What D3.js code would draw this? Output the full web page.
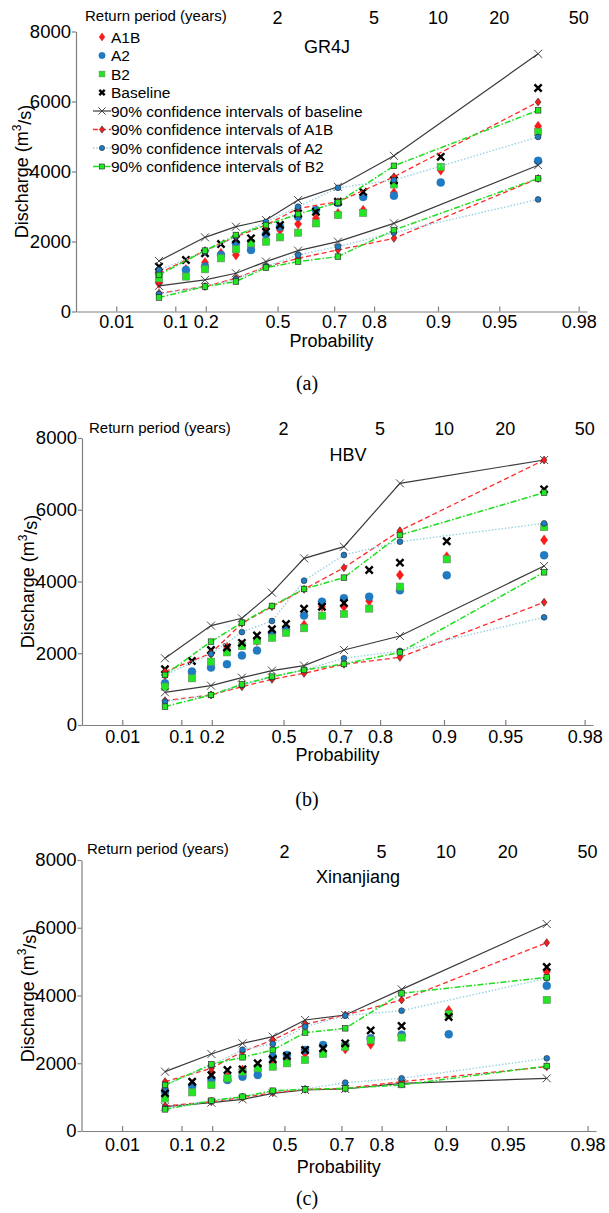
<!DOCTYPE html>
<html>
<head>
<meta charset="utf-8">
<script src="https://cdn.jsdelivr.net/npm/d3@7"></script>
<style>
  body { margin: 0; background: #fff; }
  text { font-family: "Liberation Sans", Arial, sans-serif; fill: #000; }
</style>
</head>
<body>
<svg id="chart" width="609" height="1213"></svg>
<script>
// plotting positions (non-exceedance probability) of the 15 ranked floods
const probability = [0.0615, 0.131, 0.197, 0.26, 0.323, 0.388, 0.452, 0.51, 0.58, 0.643, 0.711, 0.776, 0.838, 0.903, 0.968];
// confidence interval bounds are given at every other plotting position
const ciProbability = [0.0615, 0.197, 0.323, 0.452, 0.58, 0.711, 0.838, 0.968];

const xTickValues = [0.01, 0.1, 0.2, 0.5, 0.7, 0.8, 0.9, 0.95, 0.98];
const yTickValues = [0, 2000, 4000, 6000, 8000];
const returnPeriods = [2, 5, 10, 20, 50];

// GR4J
const gr4jBaseline = [1283, 1473, 1663, 1929, 2062, 2090, 2280, 2470, 2800, 2850, 3135, 3417, 3750, 4418, 6385];
const gr4jA1B = [800, 1200, 1397, 1663, 1615, 1850, 2350, 2328, 2500, 2660, 2803, 2895, 3392, 4038, 5292];
const gr4jA2 = [1100, 1188, 1283, 1615, 1948, 1758, 2205, 2420, 2710, 2900, 3100, 3274, 3306, 3687, 4304];
const gr4jB2 = [950, 998, 1207, 1520, 1777, 1948, 1995, 2119, 2252, 2518, 2755, 2818, 3630, 4133, 5130];
const gr4jCiBaseline = [[732, 903, 1093, 1426, 1739, 1996, 2518, 4180], [1445, 2119, 2423, 2613, 3183, 3563, 4447, 7363]];
const gr4jCiA1B = [[523, 713, 950, 1283, 1520, 1758, 2090, 3800], [1093, 1739, 2138, 2470, 2945, 3135, 3848, 5985]];
const gr4jCiA2 = [[504, 713, 922, 1283, 1615, 1853, 2252, 3202], [1188, 1700, 2150, 2560, 2993, 3534, 3753, 4988]];
const gr4jCiB2 = [[400, 713, 855, 1254, 1425, 1568, 2328, 3800], [1045, 1739, 2186, 2470, 2784, 3116, 4162, 5748]];

// HBV
const hbvBaseline = [1553, 1785, 2091, 2160, 2290, 2495, 2667, 2816, 3240, 3295, 3400, 4321, 4525, 5120, 6569];
const hbvA1B = [1395, 1441, 2000, 2180, 2231, 2350, 2602, 2620, 2788, 3300, 3299, 3457, 4182, 4693, 5160];
const hbvA2 = [1162, 1488, 1600, 1695, 1940, 2080, 2550, 2680, 3050, 3438, 3535, 3578, 3755, 4172, 4730];
const hbvB2 = [1069, 1302, 1766, 2025, 2200, 2350, 2430, 2570, 2698, 3048, 3095, 3245, 3856, 4618, 5515];
const hbvCiBaseline = [[912, 1097, 1320, 1515, 1655, 2091, 2481, 4432], [1859, 2770, 2974, 3689, 4646, 4971, 6736, 7387]];
const hbvCiA1B = [[679, 837, 1069, 1274, 1441, 1692, 1887, 3420], [1488, 1998, 2835, 3299, 3782, 4386, 5417, 7387]];
const hbvCiA2 = [[651, 837, 1116, 1330, 1534, 1859, 2064, 3002], [1395, 1980, 2590, 2900, 4024, 4739, 5111, 5620]];
const hbvCiB2 = [[512, 837, 1134, 1348, 1534, 1701, 2026, 4256], [1395, 2324, 2853, 3318, 3791, 4107, 5296, 6476]];

// Xinanjiang
const xajBaseline = [1112, 1456, 1650, 1801, 1820, 1998, 2116, 2214, 2391, 2440, 2588, 2970, 3100, 3365, 4840];
const xajA1B = [1250, 1380, 1722, 1600, 1800, 1899, 2047, 2150, 2293, 2350, 2420, 2558, 2800, 3560, 4703];
const xajA2 = [1160, 1328, 1525, 1505, 1604, 1653, 2194, 2243, 2391, 2538, 2538, 2735, 2845, 2853, 4285];
const xajB2 = [960, 1141, 1358, 1555, 1751, 1850, 1899, 1998, 2096, 2273, 2490, 2680, 2760, 3454, 3870];
const xajCiBaseline = [[718, 836, 935, 1112, 1210, 1240, 1407, 1555], [1751, 2273, 2588, 2785, 3277, 3424, 4182, 6110]];
const xajCiA1B = [[738, 866, 994, 1131, 1230, 1259, 1456, 1899], [1456, 1850, 2342, 2686, 3149, 3424, 3867, 5559]];
const xajCiA2 = [[669, 895, 1013, 1161, 1240, 1427, 1555, 2145], [1358, 1940, 2400, 2568, 3080, 3405, 3552, 4507]];
const xajCiB2 = [[639, 895, 1013, 1190, 1230, 1259, 1358, 1919], [1358, 1968, 2175, 2391, 2903, 3031, 4064, 4536]];

const panels = [
  { title: "GR4J", caption: "(a)", legend: true,
    points: [gr4jA1B, gr4jA2, gr4jB2, gr4jBaseline],
    ci: [gr4jCiBaseline, gr4jCiA1B, gr4jCiA2, gr4jCiB2] },
  { title: "HBV", caption: "(b)", legend: false,
    points: [hbvA1B, hbvA2, hbvB2, hbvBaseline],
    ci: [hbvCiBaseline, hbvCiA1B, hbvCiA2, hbvCiB2] },
  { title: "Xinanjiang", caption: "(c)", legend: false,
    points: [xajA1B, xajA2, xajB2, xajBaseline],
    ci: [xajCiBaseline, xajCiA1B, xajCiA2, xajCiB2] }
];

// page layout of each panel
const layout = [
  { left: 76, right: 587, top: 31.5, bottom: 311.5, titleX: 327, titleY: 47, rpY: 15, rpNumY: 18, rpLabelX: 85, tickDy: 10, xLabelDy: 29, captionY: 383 },
  { left: 82, right: 593, top: 438, bottom: 725, titleX: 348, titleY: 455, rpY: 427, rpNumY: 429, rpLabelX: 89, tickDy: 11.7, xLabelDy: 30, captionY: 799 },
  { left: 81.5, right: 596, top: 860, bottom: 1131, titleX: 358, titleY: 877, rpY: 848, rpNumY: 852, rpLabelX: 87, tickDy: 14, xLabelDy: 36, captionY: 1198 }
];

const pointStyles = [
  { name: "A1B", shape: "diamond", size: 4, fill: "#ff1a1a", stroke: "#e01010", sw: 0.4 },
  { name: "A2", shape: "circle", size: 4, fill: "#1f7cc4", stroke: "#1a6aa8", sw: 0.4 },
  { name: "B2", shape: "square", size: 3.6, fill: "#22e622", stroke: "#6a8a6a", sw: 0.6 },
  { name: "Baseline", shape: "x", size: 3.6, fill: "none", stroke: "#000", sw: 2.4 }
];
const ciStyles = [
  { name: "90% confidence intervals of baseline", color: "#3a3a3a", dash: null, width: 1.2,
    shape: "x", size: 4, fill: "none", stroke: "#333", sw: 0.9 },
  { name: "90% confidence intervals of A1B", color: "#ff2a2a", dash: "5,3", width: 1.3,
    shape: "diamond", size: 3.2, fill: "#ff1a1a", stroke: "#222", sw: 0.6 },
  { name: "90% confidence intervals of A2", color: "#9ad2e4", dash: "1.5,1.8", width: 1.4,
    shape: "circle", size: 2.9, fill: "#1f7cc4", stroke: "#222", sw: 0.6 },
  { name: "90% confidence intervals of B2", color: "#1fdd1f", dash: "6,2,1.5,2", width: 1.5,
    shape: "square", size: 2.8, fill: "#22e622", stroke: "#222", sw: 0.6 }
];

const gumbel = p => -Math.log(-Math.log(p));
const svg = d3.select("#chart");

function drawMarker(g, st, cx, cy, scale) {
  const s = st.size * (scale || 1);
  let m;
  if (st.shape === "circle") {
    m = g.append("circle").attr("cx", cx).attr("cy", cy).attr("r", s);
  } else if (st.shape === "square") {
    m = g.append("rect").attr("x", cx - s).attr("y", cy - s).attr("width", 2 * s).attr("height", 2 * s);
  } else if (st.shape === "diamond") {
    m = g.append("path").attr("d", `M${cx},${cy - s * 1.25}L${cx + s * 0.9},${cy}L${cx},${cy + s * 1.25}L${cx - s * 0.9},${cy}Z`);
  } else {
    m = g.append("path").attr("d", `M${cx - s},${cy - s}L${cx + s},${cy + s}M${cx - s},${cy + s}L${cx + s},${cy - s}`);
  }
  m.attr("fill", st.fill).attr("stroke", st.stroke).attr("stroke-width", st.sw);
}

panels.forEach((panel, k) => {
  const L = layout[k];
  const x = d3.scaleLinear().domain([-2, 4]).range([L.left, L.right]);
  const y = d3.scaleLinear().domain([0, 8000]).range([L.bottom, L.top]);
  const g = svg.append("g");

  // axes
  const xAxis = g.append("g").attr("transform", `translate(0,${L.bottom})`)
    .call(d3.axisBottom(x).tickValues(xTickValues.map(gumbel))
      .tickFormat((d, i) => xTickValues[i]).tickSizeInner(-5).tickSizeOuter(0));
  xAxis.selectAll("text").attr("y", L.tickDy).attr("dy", "0.35em").style("font-size", "18px")
    .style("font-family", "Liberation Sans, Arial, sans-serif");
  const yAxis = g.append("g").attr("transform", `translate(${L.left},0)`)
    .call(d3.axisLeft(y).tickValues(yTickValues).tickFormat(d3.format("d"))
      .tickSizeInner(4).tickSizeOuter(0).tickPadding(1));
  yAxis.selectAll("text").style("font-size", "18.5px").style("font-family", "Liberation Sans, Arial, sans-serif");
  g.selectAll(".domain, .tick line").attr("stroke", "#808080").attr("stroke-width", 1.2);

  // top return period row
  g.append("text").attr("x", L.rpLabelX).attr("y", L.rpY).attr("dominant-baseline", "central")
    .style("font-size", "15px").text("Return period (years)");
  g.selectAll(".rp").data(returnPeriods).join("text")
    .attr("x", T => x(gumbel(1 - 1 / T))).attr("y", L.rpNumY)
    .attr("text-anchor", "middle").attr("dominant-baseline", "central")
    .style("font-size", "18px").text(T => T);

  g.append("text").attr("x", L.titleX).attr("y", L.titleY).attr("text-anchor", "middle")
    .attr("dominant-baseline", "central").style("font-size", "18px").text(panel.title);

  g.append("text").attr("x", (L.left + L.right) / 2).attr("y", L.bottom + L.xLabelDy)
    .attr("text-anchor", "middle").attr("dominant-baseline", "central")
    .style("font-size", "18px").text("Probability");

  const yl = g.append("text")
    .attr("transform", `translate(${L.left - 54},${(L.top + L.bottom) / 2}) rotate(-90)`)
    .attr("text-anchor", "middle").attr("dominant-baseline", "central").style("font-size", "18px");
  yl.append("tspan").text("Discharge (m");
  yl.append("tspan").attr("dy", "-0.45em").style("font-size", "12px").text("3");
  yl.append("tspan").attr("dy", "0.45em").text("/s)");

  svg.append("text").attr("x", 307).attr("y", L.captionY).attr("text-anchor", "middle")
    .attr("dominant-baseline", "central")
    .style("font-family", "Liberation Serif, Times New Roman, serif").style("font-size", "20px")
    .text(panel.caption);

  // scattered quantiles
  const pts = g.append("g");
  panel.points.forEach((series, s) => {
    series.forEach((v, i) => drawMarker(pts, pointStyles[s], x(gumbel(probability[i])), y(v)));
  });

  // confidence intervals
  const line = d3.line().x((v, i) => x(gumbel(ciProbability[i]))).y(v => y(v));
  const ciG = g.append("g");
  panel.ci.forEach((bounds, s) => {
    const st = ciStyles[s];
    bounds.forEach(b => {
      ciG.append("path").attr("d", line(b)).attr("fill", "none")
        .attr("stroke", st.color).attr("stroke-width", st.width)
        .attr("stroke-dasharray", st.dash);
    });
  });
  panel.ci.forEach((bounds, s) => {
    bounds.forEach(b => b.forEach((v, i) => drawMarker(ciG, ciStyles[s], x(gumbel(ciProbability[i])), y(v))));
  });

  // legend
  if (panel.legend) {
    const lg = g.append("g");
    const rowY = i => 37 + i * 18.5;
    pointStyles.forEach((st, i) => {
      drawMarker(lg, st, 102, rowY(i), st.shape === "x" ? 0.75 : 0.8);
      lg.append("text").attr("x", 111).attr("y", rowY(i)).attr("dominant-baseline", "central")
        .style("font-size", "15.5px").text(st.name);
    });
    ciStyles.forEach((st, i) => {
      const yy = rowY(i + 4);
      lg.append("line").attr("x1", 93).attr("x2", 111).attr("y1", yy).attr("y2", yy)
        .attr("stroke", st.color).attr("stroke-width", st.width).attr("stroke-dasharray", st.dash);
      drawMarker(lg, st, 102, yy, 0.9);
      lg.append("text").attr("x", 111).attr("y", yy).attr("dominant-baseline", "central")
        .style("font-size", "15.5px").text(st.name);
    });
  }
});
</script>
</body>
</html>
